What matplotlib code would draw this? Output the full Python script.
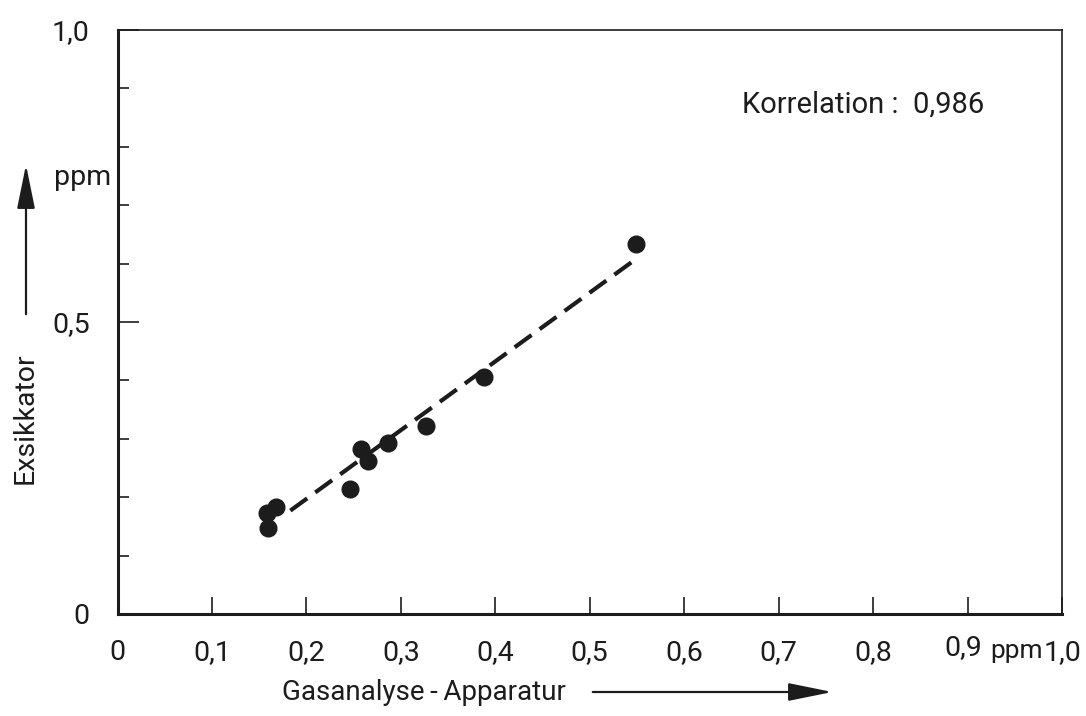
import numpy as np
import matplotlib
matplotlib.use("Agg")
from matplotlib import pyplot as plt
from matplotlib.patches import FancyArrowPatch

# measured pairs (ppm)
gas_apparatus = [0.549, 0.388, 0.327, 0.286, 0.258, 0.265, 0.246, 0.168, 0.158, 0.159]
desiccator = [0.634, 0.406, 0.322, 0.293, 0.283, 0.262, 0.214, 0.183, 0.173, 0.147]
fit_x_range = [0.183, 0.549]
correlation = "0,986"

x_ticks = [0.1 * i for i in range(11)]
x_labels = ["0", "0,1", "0,2", "0,3", "0,4", "0,5", "0,6", "0,7", "0,8", "", "1,0"]
y_major = [0.0, 0.5, 1.0]
y_major_labels = ["0", "0,5", "1,0"]
y_minor = [0.1, 0.2, 0.3, 0.4, 0.6, 0.7, 0.8, 0.9]

INK = "#1c1c1c"
FS = 20.5
plt.rcParams["font.family"] = ["Roboto", "DejaVu Sans"]

fig = plt.figure(figsize=(10.86, 7.16), dpi=100)
ax = fig.add_axes([117.5 / 1086, 1 - 614 / 716, 944.5 / 1086, 584 / 716])

# regression line from the data
slope, intercept = np.polyfit(gas_apparatus, desiccator, 1)
fx = np.array(fit_x_range)
ax.plot(fx, slope * fx + intercept, color=INK, lw=3.0, dashes=(5, 2.4),
        solid_capstyle="butt", dash_capstyle="butt")
ax.plot(gas_apparatus, desiccator, "o", color=INK, ms=12, mec=INK)

ax.set_xlim(0, 1.0)
ax.set_ylim(0, 1.0)

# frame
for side in ("left", "bottom"):
    ax.spines[side].set_linewidth(2.2)
for side in ("top", "right"):
    ax.spines[side].set_linewidth(1.2)
for s in ax.spines.values():
    s.set_color(INK)

ax.set_xticks(x_ticks)
ax.set_xticklabels(x_labels)
ax.set_yticks(y_major)
ax.set_yticklabels(y_major_labels)
ax.set_yticks(y_minor, minor=True)
ax.tick_params(axis="x", direction="in", length=12, width=1.2, colors=INK,
               labelsize=FS, pad=18)
ax.tick_params(axis="y", which="major", direction="in", length=15, width=1.2,
               colors=INK, labelsize=FS, pad=20)
ax.tick_params(axis="y", which="minor", direction="in", length=8, width=1.2,
               colors=INK)

# "0,9 ppm" sits a little higher than the other tick labels
xlab = ax.get_xaxis_transform()
ax.text(0.895, -0.058, "0,9", transform=xlab, ha="center", va="center",
        fontsize=FS, color=INK)
ax.text(0.952, -0.063, "ppm", transform=xlab, ha="center", va="center",
        fontsize=19, color=INK)
ax.text(-0.037, 0.748, "ppm", transform=ax.get_yaxis_transform(), ha="center",
        va="center", fontsize=FS, color=INK)
ax.text(0.661, 0.872, "Korrelation :  " + correlation, transform=ax.transAxes,
        ha="left", va="center", fontsize=21, color=INK)

# axis titles with arrows
fig.text(424 / 1086, 1 - 692 / 716, "Gasanalyse\u2009-\u2009Apparatur", ha="center",
         va="center", fontsize=20, color=INK)
fig.text(25 / 1086, 1 - 418 / 716, "Exsikkator", ha="center", va="center",
         rotation=90, fontsize=20.5, color=INK)

arrow_style = "-|>,head_length=2.7,head_width=0.55"
fig.patches.append(FancyArrowPatch((590 / 1086, 1 - 692 / 716), (835 / 1086, 1 - 692 / 716),
                                   transform=fig.transFigure, arrowstyle=arrow_style,
                                   mutation_scale=10, lw=1.6, color=INK))
fig.patches.append(FancyArrowPatch((26 / 1086, 1 - 317 / 716), (26 / 1086, 1 - 162 / 716),
                                   transform=fig.transFigure, arrowstyle=arrow_style,
                                   mutation_scale=10, lw=1.6, color=INK))

fig.savefig("out.png", dpi=100)
